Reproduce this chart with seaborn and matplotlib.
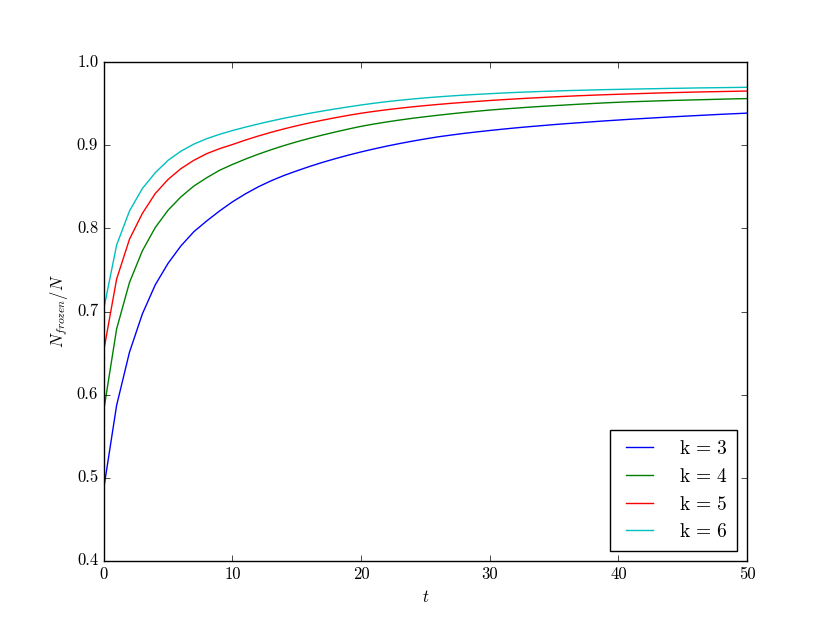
import numpy as np
import pandas as pd
import seaborn as sns
import matplotlib.pyplot as plt

# values, one per integer t
t = list(range(51))
k3 = [0.487, 0.587, 0.651, 0.697, 0.732, 0.758, 0.779, 0.796, 0.809, 0.821,
      0.8320, 0.8415, 0.8500, 0.8573, 0.8637, 0.8693, 0.8746, 0.8795, 0.8840, 0.8882,
      0.8921, 0.8957, 0.8991, 0.9022, 0.9051, 0.9078, 0.9103, 0.9124, 0.9144, 0.9162,
      0.9179, 0.9195, 0.9210, 0.9224, 0.9237, 0.9250, 0.9262, 0.9273, 0.9284, 0.9295,
      0.9305, 0.9315, 0.9324, 0.9333, 0.9342, 0.9350, 0.9358, 0.9366, 0.9374, 0.9381,
      0.9388]
k4 = [0.581, 0.679, 0.735, 0.773, 0.801, 0.822, 0.838, 0.851, 0.861, 0.870,
      0.8770, 0.8834, 0.8893, 0.8947, 0.8997, 0.9043, 0.9085, 0.9124, 0.9161, 0.9196,
      0.9229, 0.9257, 0.9282, 0.9305, 0.9326, 0.9345, 0.9363, 0.9380, 0.9396, 0.9411,
      0.9425, 0.9437, 0.9448, 0.9459, 0.9469, 0.9478, 0.9487, 0.9496, 0.9504, 0.9512,
      0.9519, 0.9525, 0.9530, 0.9535, 0.9540, 0.9544, 0.9548, 0.9552, 0.9556, 0.9560,
      0.9563]
k5 = [0.653, 0.739, 0.787, 0.818, 0.842, 0.859, 0.872, 0.882, 0.890, 0.896,
      0.9010, 0.9063, 0.9112, 0.9157, 0.9198, 0.9236, 0.9271, 0.9303, 0.9333, 0.9361,
      0.9387, 0.9409, 0.9429, 0.9447, 0.9464, 0.9479, 0.9493, 0.9506, 0.9518, 0.9529,
      0.9540, 0.9550, 0.9559, 0.9568, 0.9576, 0.9584, 0.9591, 0.9598, 0.9604, 0.9610,
      0.9615, 0.9620, 0.9625, 0.9630, 0.9634, 0.9638, 0.9642, 0.9645, 0.9648, 0.9651,
      0.9654]
k6 = [0.703, 0.780, 0.821, 0.848, 0.867, 0.882, 0.893, 0.9015, 0.9080, 0.9133,
      0.9178, 0.9219, 0.9257, 0.9293, 0.9326, 0.9357, 0.9386, 0.9413, 0.9439, 0.9463,
      0.9486, 0.9507, 0.9526, 0.9543, 0.9558, 0.9572, 0.9584, 0.9595, 0.9605, 0.9614,
      0.9622, 0.9630, 0.9637, 0.9643, 0.9649, 0.9654, 0.9659, 0.9663, 0.9667, 0.9671,
      0.9674, 0.9677, 0.9680, 0.9683, 0.9686, 0.9688, 0.9691, 0.9693, 0.9695, 0.9697,
      0.9699]
labels = [r"$\mathrm{k}\,=\,3$", r"$\mathrm{k}\,=\,4$", r"$\mathrm{k}\,=\,5$", r"$\mathrm{k}\,=\,6$"]
colors = ["#0000ff", "#008000", "#ff0000", "#00bfbf"]

plt.style.use("classic")
plt.rcParams["font.family"] = "serif"
plt.rcParams["font.serif"] = ["cmr10"]
plt.rcParams["mathtext.fontset"] = "cm"
plt.rcParams["axes.unicode_minus"] = False
plt.rcParams["figure.facecolor"] = "white"

frames = []
for lab, vals in zip(labels, [k3, k4, k5, k6]):
    frames.append(pd.DataFrame({"t": t, "frac": vals, "k": lab}))
df = pd.concat(frames, ignore_index=True)

fig, ax = plt.subplots(figsize=(8.3, 6.23), dpi=100)
fig.subplots_adjust(left=0.125, right=0.9, bottom=0.1, top=0.9)
sns.lineplot(data=df, x="t", y="frac", hue="k", hue_order=labels,
             palette=colors, linewidth=1.0, errorbar=None, ax=ax)

ax.set_xlim(0, 50)
ax.set_ylim(0.4, 1.0)
ax.set_xlabel(r"$t$")
ax.set_ylabel(r"$N_{frozen}/N$")
sns.move_legend(ax, "lower right", title=None, frameon=True, fontsize=14,
                handletextpad=1.0, borderpad=0.5)

fig.savefig("out.png", dpi=100, facecolor="white")
